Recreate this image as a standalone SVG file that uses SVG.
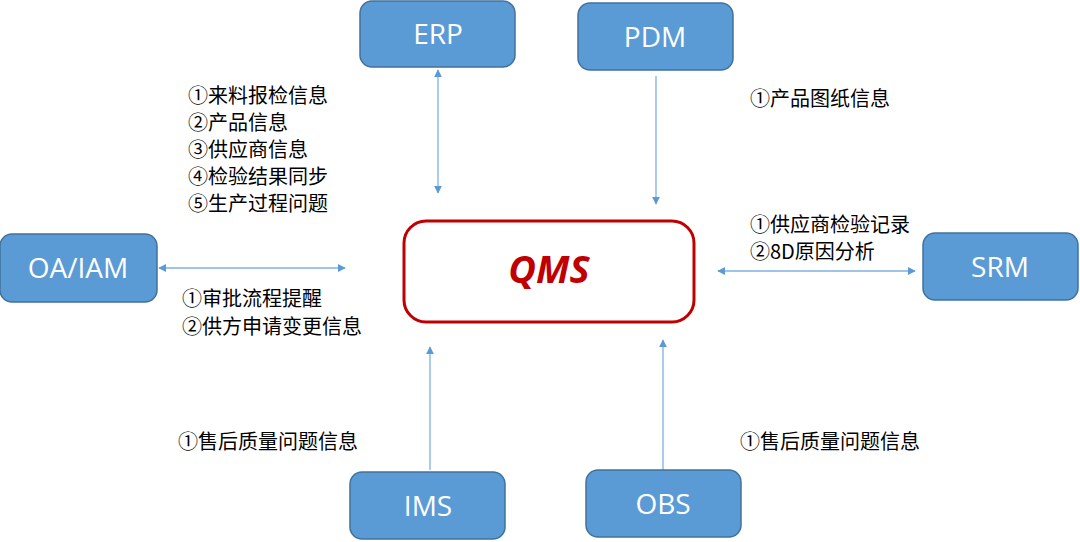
<svg xmlns="http://www.w3.org/2000/svg" width="1080" height="542" viewBox="0 0 1080 542">
<defs>
<marker id="ah" viewBox="0 0 10 10" refX="9" refY="5" markerWidth="8" markerHeight="8" orient="auto-start-reverse" markerUnits="userSpaceOnUse"><path d="M0,0 L10,5 L0,10 z" fill="#5b9bd5"/></marker>
<style>
.n{fill:#5b9bd5;stroke:#41719c;stroke-width:1.5}
.nt{font-family:"Open Sans","Liberation Sans",sans-serif;font-size:28px;fill:#fff;text-anchor:middle}
.c{stroke:#7eb0e0;stroke-width:1.3;fill:none}
.l{font-family:"Noto Sans CJK SC",sans-serif;font-size:20px;fill:#000}
</style>
</defs>
<rect width="1080" height="542" fill="#fff"/>
<g id="connectors">
<line class="c" x1="438" y1="70" x2="438" y2="193" marker-start="url(#ah)" marker-end="url(#ah)"/>
<line class="c" x1="656" y1="76" x2="656" y2="204" marker-end="url(#ah)"/>
<line class="c" x1="159" y1="268" x2="345" y2="268" marker-start="url(#ah)" marker-end="url(#ah)"/>
<line class="c" x1="718" y1="271" x2="915" y2="271" marker-start="url(#ah)" marker-end="url(#ah)"/>
<line class="c" x1="430" y1="470" x2="430" y2="347" marker-end="url(#ah)"/>
<line class="c" x1="663" y1="470" x2="663" y2="340" marker-end="url(#ah)"/>
</g>
<g id="ERP"><rect class="n" x="360" y="1" width="155" height="66" rx="12"/><text class="nt" x="438" y="44">ERP</text></g>
<g id="PDM"><rect class="n" x="578" y="3" width="155" height="67" rx="12"/><text class="nt" x="655" y="47">PDM</text></g>
<g id="OAIAM"><rect class="n" x="0" y="234" width="157" height="68" rx="12"/><text class="nt" x="78" y="278">OA/IAM</text></g>
<g id="SRM"><rect class="n" x="923" y="233" width="155" height="67" rx="12"/><text class="nt" x="1000" y="277">SRM</text></g>
<g id="IMS"><rect class="n" x="350" y="472" width="155" height="67" rx="12"/><text class="nt" x="428" y="516">IMS</text></g>
<g id="OBS"><rect class="n" x="586" y="470" width="155" height="67" rx="12"/><text class="nt" x="663" y="514">OBS</text></g>
<g id="QMS"><rect x="404" y="221" width="290" height="101" rx="22" fill="#fff" stroke="#c00000" stroke-width="3"/><text x="549" y="283" font-family="Open Sans,Liberation Sans,sans-serif" font-size="38" font-style="italic" font-weight="bold" fill="#c00000" text-anchor="middle">QMS</text></g>
<g id="labels">
<text class="l" x="188" y="103">①来料报检信息</text>
<text class="l" x="188" y="130">②产品信息</text>
<text class="l" x="188" y="157">③供应商信息</text>
<text class="l" x="188" y="184">④检验结果同步</text>
<text class="l" x="188" y="211">⑤生产过程问题</text>
<text class="l" x="750" y="106">①产品图纸信息</text>
<text class="l" x="750" y="232">①供应商检验记录</text>
<text class="l" x="750" y="259">②8D原因分析</text>
<text class="l" x="182" y="306">①审批流程提醒</text>
<text class="l" x="182" y="334">②供方申请变更信息</text>
<text class="l" x="178" y="449">①售后质量问题信息</text>
<text class="l" x="740" y="449">①售后质量问题信息</text>
</g>
</svg>
